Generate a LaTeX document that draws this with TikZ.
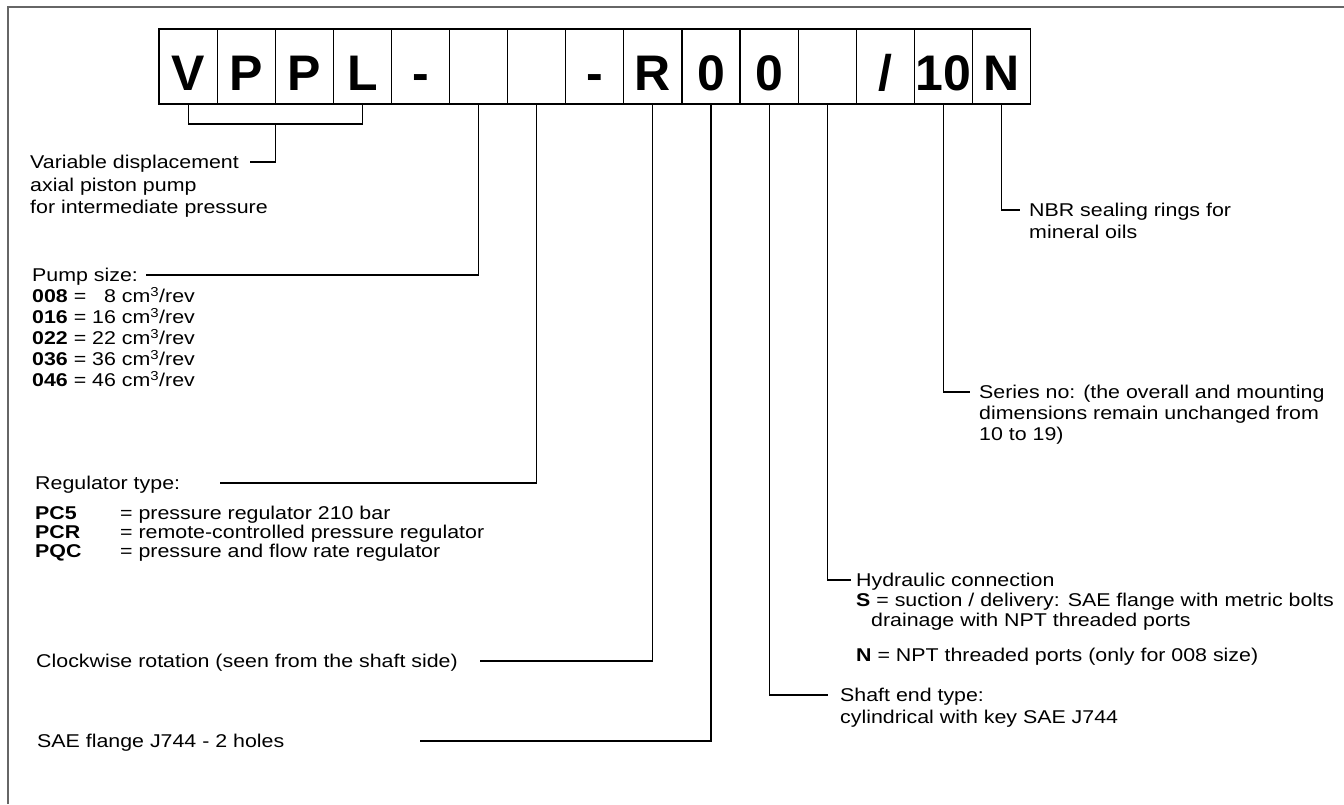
\documentclass[tikz,border=0pt]{standalone}
\usepackage{fontspec}
\setmainfont{Liberation Sans}[FakeStretch=1.155]
\newfontfamily\boxfont{Liberation Sans}
\begin{document}
\begin{tikzpicture}[x=1pt,y=-1pt,
  box/.style={draw=black, line width=1.2pt, minimum width=58.1pt, minimum height=75pt, inner sep=0pt, text height=47pt, text depth=0pt, font=\boxfont\fontsize{50}{50}\selectfont\bfseries},
  txt/.style={anchor=west, inner sep=0pt, text height=13pt, text depth=0pt, font=\fontsize{18.5}{22}\selectfont},
  lead/.style={line width=1.1pt, draw=black},
  frameline/.style={line width=2pt, draw=black!60}]
\useasboundingbox (0,0) rectangle (1344,804);
\draw[frameline] (8,804) -- (8,7) -- (1344,7);
% code boxes
\node[box] (b1) at (188.05,66.5) {V};
\node[box] (b2) at (246.15,66.5) {P};
\node[box] (b3) at (304.25,66.5) {P};
\node[box] (b4) at (362.35,66.5) {L};
\node[box] (b5) at (420.45,66.5) {-};
\node[box] (b6) at (478.55,66.5) {};
\node[box] (b7) at (536.65,66.5) {};
\node[box] (b8) at (594.75,66.5) {-};
\node[box] (b9) at (652.85,66.5) {R};
\node[box] (b10) at (710.95,66.5) {0};
\node[box] (b11) at (769.05,66.5) {0};
\node[box] (b12) at (827.15,66.5) {};
\node[box] (b13) at (885.25,66.5) {/};
\node[box] (b14) at (943.35,66.5) {10};
\node[box] (b15) at (1001.45,66.5) {N};
% texts left
\node[txt] (var1) at (30,162) {Variable displacement};
\node[txt] (var2) at (30,184.5) {axial piston pump};
\node[txt] (var3) at (30,207) {for intermediate pressure};
\node[txt] (ps0) at (32,275) {Pump size:};
\node[txt] (ps1) at (32,296) {\textbf{008} = \phantom{0}8 cm\textsuperscript{3}/rev};
\node[txt] (ps2) at (32,317) {\textbf{016} = 16 cm\textsuperscript{3}/rev};
\node[txt] (ps3) at (32,338) {\textbf{022} = 22 cm\textsuperscript{3}/rev};
\node[txt] (ps4) at (32,359) {\textbf{036} = 36 cm\textsuperscript{3}/rev};
\node[txt] (ps5) at (32,380) {\textbf{046} = 46 cm\textsuperscript{3}/rev};
\node[txt] (reg0) at (35,483) {Regulator type:};
\node[txt] (reg1) at (35,513) {\makebox[85pt][l]{\textbf{PC5}}= pressure regulator 210 bar};
\node[txt] (reg2) at (35,532) {\makebox[85pt][l]{\textbf{PCR}}= remote-controlled pressure regulator};
\node[txt] (reg3) at (35,551) {\makebox[85pt][l]{\textbf{PQC}}= pressure and flow rate regulator};
\node[txt] (cw) at (36,661) {Clockwise rotation (seen from the shaft side)};
\node[txt] (sae) at (37,741) {SAE flange J744 - 2 holes};
% texts right
\node[txt] (nbr1) at (1029,210) {NBR sealing rings for};
\node[txt] (nbr2) at (1029,232) {mineral oils};
\node[txt] (ser1) at (979,392) {Series no: (the overall and mounting};
\node[txt] (ser2) at (979,413) {dimensions remain unchanged from};
\node[txt] (ser3) at (979,434) {10 to 19)};
\node[txt] (hyd1) at (856,580) {Hydraulic connection};
\node[txt] (hyd2) at (856,600) {\textbf{S} = suction / delivery: SAE flange with metric bolts};
\node[txt] (hyd3) at (871,620) {drainage with NPT threaded ports};
\node[txt] (hyd4) at (856,655) {\textbf{N} = NPT threaded ports (only for 008 size)};
\node[txt] (sh1) at (840,695) {Shaft end type:};
\node[txt] (sh2) at (840,717) {cylindrical with key SAE J744};
% leader end points
\coordinate (brk) at (0,124);
\coordinate (brkmid) at (275.2,124);
\coordinate (varend) at (250,162);
\coordinate (psend) at (146,275);
\coordinate (regend) at (220,483);
\coordinate (cwend) at (480,661);
\coordinate (saeend) at (420,741);
\coordinate (shend) at (828,695);
\coordinate (hydend) at (851,580);
\coordinate (serend) at (970,392);
\coordinate (nbrend) at (1020,210);
% leaders
\draw[lead] (b1.south) -- (b1.south |- brk) -- (b4.south |- brk) -- (b4.south);
\draw[lead] (brkmid) |- (varend);
\draw[lead] (b6.south) |- (psend);
\draw[lead] (b7.south) |- (regend);
\draw[lead] (b9.south) |- (cwend);
\draw[lead] (b10.south) |- (saeend);
\draw[lead] (b11.south) |- (shend);
\draw[lead] (b12.south) |- (hydend);
\draw[lead] (b14.south) |- (serend);
\draw[lead] (b15.south) |- (nbrend);
\end{tikzpicture}
\end{document}
